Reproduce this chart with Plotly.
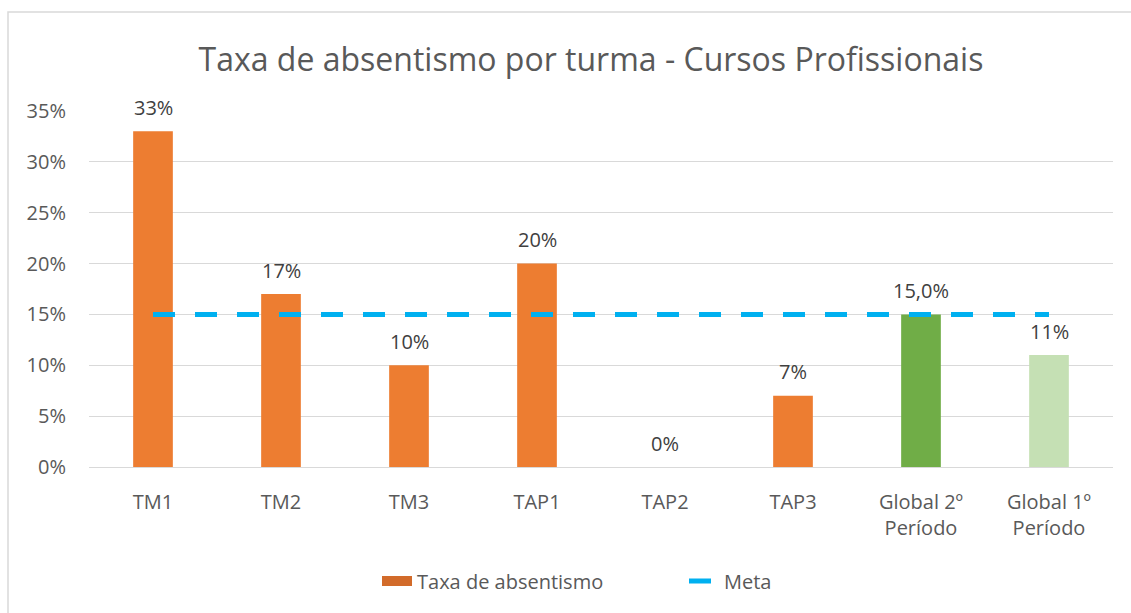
import plotly.graph_objects as go

categories = ["TM1", "TM2", "TM3", "TAP1", "TAP2", "TAP3", "Global 2º<br>Período", "Global 1º<br>Período"]
taxa = [33, 17, 10, 20, 0, 7, 15, 11]
labels = ["33%", "17%", "10%", "20%", "0%", "7%", "15,0%", "11%"]
bar_colors = ["#ED7D31", "#ED7D31", "#ED7D31", "#ED7D31", "#ED7D31", "#ED7D31", "#70AD47", "#C5E0B4"]
meta = [15, 15, 15, 15, 15, 15, 15, 15]
y_ticks = [0, 5, 10, 15, 20, 25, 30, 35]
y_tick_text = ["0%", "5%", "10%", "15%", "20%", "25%", "30%", "35%"]

FONT = "Open Sans"
GREY = "#595959"
FS = 20

fig = go.Figure()
fig.add_trace(go.Bar(
    x=categories, y=taxa, name="Taxa de absentismo",
    marker=dict(color=bar_colors, line=dict(width=0)),
    showlegend=False,
))
# legend entry for the bar series
fig.add_trace(go.Scatter(
    x=[categories[0]], y=[None], name="Taxa de absentismo", mode="lines",
    line=dict(color="#D26B2A", width=14), showlegend=True, hoverinfo="skip",
))
fig.add_trace(go.Scatter(
    x=categories, y=meta, name="Meta", mode="lines",
    line=dict(color="#00B0F0", width=5, dash="22px,20px"),
))

for c, v, s in zip(categories, taxa, labels):
    fig.add_annotation(x=c, y=v, text=s, showarrow=False, yshift=24,
                       font=dict(family=FONT, size=FS, color="#404040"))

l, r, t, b = 89, 18, 111, 146
W, H = 1131, 613
pw, ph = W - l - r, H - t - b

fig.update_layout(
    width=W, height=H,
    margin=dict(l=l, r=r, t=t, b=b, autoexpand=False),
    paper_bgcolor="white", plot_bgcolor="white",
    barmode="overlay", bargap=0.69,
    title=dict(text="Taxa de absentismo por turma - Cursos Profissionais",
               x=591 / W, xanchor="center", xref="container",
               y=1 - 60 / H, yanchor="middle", yref="container",
               font=dict(family=FONT, size=32, color=GREY)),
    font=dict(family=FONT, size=FS, color=GREY),
    legend=dict(orientation="h", x=(377 - l) / pw, xanchor="left",
                y=-(581 - (t + ph)) / ph, yanchor="middle",
                font=dict(family=FONT, size=FS, color=GREY),
                traceorder="normal", itemsizing="trace", entrywidth=262),
    showlegend=True,
    shapes=[dict(type="rect", xref="paper", yref="paper",
                 x0=(8 - l) / pw, x1=(1140 - l) / pw,
                 y0=-(H + 10 - t - ph) / ph, y1=1 + (t - 12) / ph,
                 line=dict(color="#D9D9D9", width=1.5), fillcolor="rgba(0,0,0,0)",
                 layer="below")],
)
fig.update_xaxes(showgrid=False, showline=False, ticks="", ticklabelstandoff=21,
                 tickfont=dict(family=FONT, size=FS, color=GREY))
fig.update_yaxes(range=[0, 35], tickvals=y_ticks, ticktext=y_tick_text,
                 showgrid=True, gridcolor="#D9D9D9", gridwidth=1,
                 zeroline=True, zerolinecolor="#D9D9D9", zerolinewidth=1,
                 showline=False, ticks="", ticklabelstandoff=22,
                 tickfont=dict(family=FONT, size=FS, color=GREY))

fig.write_html("out.html", config={"displayModeBar": False},
               post_script="document.body.style.margin='0';document.body.style.overflow='hidden';")
